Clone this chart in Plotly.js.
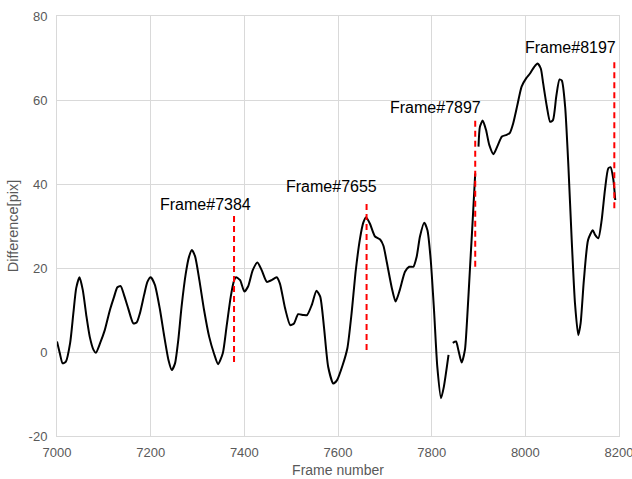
<!DOCTYPE html>
<html>
<head>
<meta charset="utf-8">
<script src="https://cdn.plot.ly/plotly-3.0.1.min.js"></script>
<style>html,body{margin:0;padding:0;background:#fff;}#chart{width:632px;height:479px;}</style>
</head>
<body>
<div id="chart"></div>
<script>
const frames = [7000,7006,7012,7019,7028,7035,7041,7048,7055,7063,7070,7078,7083,7092,7102,7113,7122,7129,7136,7143,7152,7163,7170,7177,7186,7193,7200,7209,7220,7228,7238,7245,7252,7259,7266,7275,7282,7288,7295,7304,7314,7325,7335,7344,7354,7362,7371,7378,7382,7391,7400,7408,7418,7428,7437,7448,7458,7469,7476,7487,7498,7506,7515,7526,7534,7544,7554,7562,7570,7579,7590,7598,7610,7620,7629,7638,7647,7654,7660,7668,7679,7690,7697,7704,7715,7723,7732,7743,7752,7761,7768,7775,7784,7791,7798,7805,7812,7820,7826,7836,7840,7845,7852,7857,7864,7871,7876,7882,7888,7893,7896,7900,7903,7909,7916,7923,7932,7940,7950,7960,7967,7974,7983,7992,8002,8010,8019,8026,8033,8038,8046,8053,8059,8066,8073,8078,8085,8092,8099,8106,8113,8118,8125,8134,8144,8149,8156,8163,8170,8177,8182,8188,8192];
const difference = [2.5,-0.3,-2.7,-2.3,2.1,9.3,15.2,17.8,14.8,8.4,3.6,0.5,-0.2,2.1,5.2,10,13.2,15.4,15.7,13.6,10.4,6.8,7.0,9.2,13.6,16.7,17.8,16,10,4.4,-1.9,-4.3,-2.7,2.9,10.8,18.7,22.7,24.3,22.7,17.1,10,3.6,-0.3,-2.9,-0.3,6,13.2,17.0,17.8,17.1,14.4,15.6,19.5,21.3,19.5,16.7,17.1,17.8,16.3,10.4,6.4,6.8,9,8.8,8.8,11.2,14.6,13.2,6,-3.5,-7.5,-6.7,-3.1,0.9,9.2,19.5,27,30.8,32.1,30.6,27.5,26.8,25.3,21.5,15.2,12,14.8,19.1,20.3,20.3,22.7,27.5,30.8,29,21.9,10,-3.5,-11,-8.3,-0.7,null,2.2,2.5,0.5,-2.5,0.5,8.4,20.3,32.2,42.5,null,48.9,53.6,55.1,52.9,49.3,47.1,48.9,51.3,51.7,52.2,54.4,58.8,63.2,65.2,66.3,67.9,68.7,67.5,64,58.4,54.8,55.2,60.8,64.9,64.6,58.4,44.1,26.7,11.6,4,6.8,17.1,26.7,29,27.9,27.1,31.4,38.6,43.7,44,41,36.2];

const markerLabels = ["Frame#7384","Frame#7655","Frame#7897","Frame#8197"];
const markerX = [7378,7661,7893,8190];
const markerTop = [33.1,36.2,55.9,69.5];
const markerBottom = [-2.4,0.5,20.3,34.2];
const labelX = [7318,7587,7809,8097];
const labelY = [35.2,39.3,58.3,72.6];

const xTicks = [7000,7200,7400,7600,7800,8000,8200];
const yTicks = [-20,0,20,40,60,80];

const traces = [{
  x: frames, y: difference, type: 'scatter', mode: 'lines',
  line: {color: '#000000', width: 2, shape: 'spline', smoothing: 0.6},
  connectgaps: false, hoverinfo: 'skip', showlegend: false
}];
markerX.forEach((fx, i) => {
  traces.push({
    x: [fx, fx], y: [markerBottom[i], markerTop[i]], type: 'scatter', mode: 'lines',
    line: {color: '#ff0000', width: 2, dash: '6px,4px'}, hoverinfo: 'skip', showlegend: false
  });
});

const annotations = markerLabels.map((t, i) => ({
  x: labelX[i], y: labelY[i], xref: 'x', yref: 'y', text: t, showarrow: false,
  font: {family: 'Liberation Sans, Arial, sans-serif', size: 16, color: '#000000'},
  xanchor: 'center', yanchor: 'middle'
}));

const layout = {
  width: 632, height: 479,
  margin: {l: 57, r: 13, t: 16, b: 43},
  paper_bgcolor: '#ffffff', plot_bgcolor: '#ffffff',
  font: {family: 'Liberation Sans, Arial, sans-serif', color: '#595959', size: 13},
  xaxis: {
    range: [7000, 8200], tickvals: xTicks, ticktext: xTicks.map(String),
    showgrid: true, gridcolor: '#d9d9d9', gridwidth: 1,
    showline: true, linecolor: '#d9d9d9', linewidth: 1, mirror: true,
    zeroline: false, ticks: '', ticklabelstandoff: 4, ticklabeloverflow: 'allow',
    tickfont: {size: 13, color: '#595959'},
    title: {text: 'Frame number', font: {size: 14, color: '#595959'}, standoff: 6}
  },
  yaxis: {
    range: [-20, 80], tickvals: yTicks, ticktext: yTicks.map(String),
    showgrid: true, gridcolor: '#d9d9d9', gridwidth: 1,
    showline: true, linecolor: '#d9d9d9', linewidth: 1, mirror: true,
    zeroline: false, ticks: '', ticklabelstandoff: 6,
    tickfont: {size: 13, color: '#595959'},
    title: {text: 'Difference[pix]', font: {size: 14.5, color: '#595959'}, standoff: 6}
  },
  annotations: annotations,
  showlegend: false
};

Plotly.newPlot('chart', traces, layout, {displayModeBar: false, staticPlot: true});
</script>
</body>
</html>
